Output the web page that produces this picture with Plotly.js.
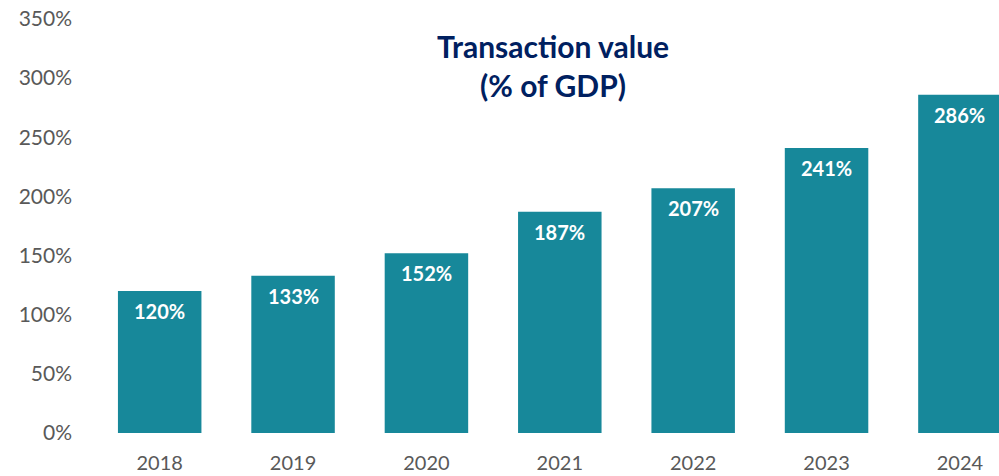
<!DOCTYPE html>
<html><head><meta charset="utf-8">
<script src="https://cdn.plot.ly/plotly-3.0.1.min.js"></script>
<style>html,body{margin:0;padding:0;background:#fff}#chart{width:999px;height:476px}</style>
</head><body><div id="chart"></div>
<script>
const years = ['2018','2019','2020','2021','2022','2023','2024'];
const values = [120, 133, 152, 187, 207, 241, 286];
const labels = values.map(v => v + '%');
const yTicks = [0, 50, 100, 150, 200, 250, 300, 350];
const yTickText = yTicks.map(v => v + '%');

const font = 'Lato, "Open Sans", sans-serif';
const trace = {
  type: 'bar', x: years, y: values,
  marker: {color: '#17889A'},
  hoverinfo: 'none'
};
const annotations = years.map((yr, i) => ({
  x: i, y: values[i], xref: 'x', yref: 'y',
  text: '<b>' + labels[i] + '</b>', showarrow: false,
  yanchor: 'middle', yshift: -20,
  font: {family: font, size: 20, color: '#ffffff'}
}));
const layout = {
  width: 999, height: 476,
  margin: {l: 93, r: 0, t: 19, b: 43},
  paper_bgcolor: '#ffffff', plot_bgcolor: '#ffffff',
  bargap: 0.374,
  showlegend: false,
  title: {text: '<b>Transaction value<br>(% of GDP)</b>', x: 0.5536, xanchor: 'center', y: 0.879, yanchor: 'middle',
          font: {family: font, size: 30, color: '#002060'}},
  xaxis: {type: 'category', range: [-0.5, 6.293], showgrid: false, showline: false, zeroline: false,
          ticks: '', tickfont: {family: font, size: 20, color: '#595959'}, ticklabelstandoff: 16},
  yaxis: {range: [0, 350], tickvals: yTicks, ticktext: yTickText, showgrid: false, showline: false, zeroline: false,
          ticks: '', tickfont: {family: font, size: 21, color: '#595959'}, ticklabelstandoff: 20},
  annotations: annotations
};
Plotly.newPlot('chart', [trace], layout, {staticPlot: true, displayModeBar: false});
</script></body></html>
